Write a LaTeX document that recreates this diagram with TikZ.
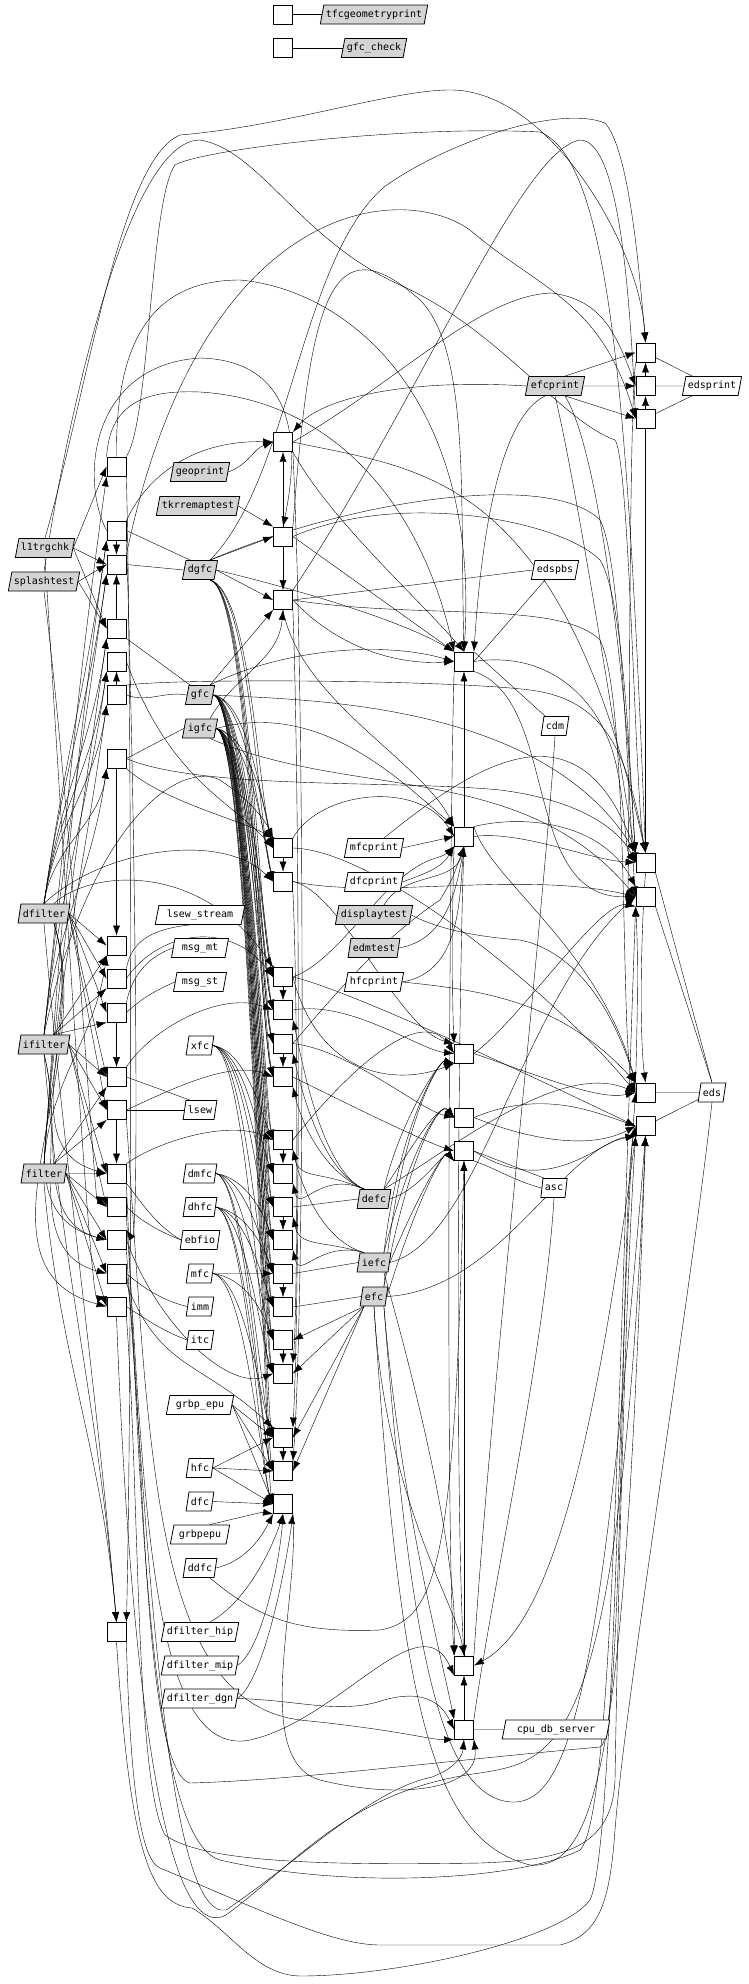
\documentclass[tikz,border=0pt]{standalone}
\usepackage{fontspec}
\setmonofont{DejaVu Sans Mono}
\usetikzlibrary{shapes.geometric,arrows.meta,positioning,backgrounds}

\tikzset{
  fn/.style={draw, rectangle, fill=white, minimum width=19pt, minimum height=19pt, inner sep=0pt},
  unit/.style={draw, trapezium, trapezium left angle=70, trapezium right angle=110,
    trapezium stretches body, fill=white, minimum height=19pt, inner xsep=2pt, inner ysep=0pt,
    font=\ttfamily\fontsize{10}{12}\selectfont},
  prog/.style={unit, fill=black!17},
}

\begin{document}
\begin{tikzpicture}[x=1pt, y=-1pt, >={Latex[length=10pt,width=7pt]}, line width=0.8pt]
\useasboundingbox (0,0) rectangle (749,1984);

% function boxes, column by column
\foreach \y [count=\i] in {466.5,530.5,564.5,628.5,661.5,695,758.5,945.5,978.5,1012.5,1077,1110,1173.5,1207,1240,1273.5,1306.5,1632}
  \node [fn] (p\i) at (116.5,\y) {};
\foreach \y [count=\i] in {14.5,48,442,536.5,600,848,881.5,977,1010,1043.5,1077,1140,1173.5,1207,1240,1273.5,1307,1340,1373.5,1437.5,1471,1504}
  \node [fn] (q\i) at (283,\y) {};
\foreach \y [count=\i] in {661.5,836.5,1053.5,1117.5,1151,1665.5,1729.5}
  \node [fn] (r\i) at (464,\y) {};
\foreach \y [count=\i] in {352.5,386,418.5,862.5,896.5,1092.5,1126}
  \node [fn] (s\i) at (645.5,\y) {};

% modules
\node [prog] (tfcgeo) at (374,14.5) {tfcgeometryprint};
\node [prog] (gfcchk) at (374,48) {gfc\_check};
\node [prog] (efcprint) at (555,386) {efcprint};
\node [unit] (edsprint) at (712,386) {edsprint};
\node [prog] (geoprint) at (200,472) {geoprint};
\node [prog] (tkrremap) at (198,506) {tkrremaptest};
\node [prog] (l1trgchk) at (45,548) {l1trgchk};
\node [prog] (dgfc) at (200,570) {dgfc};
\node [prog] (splash) at (44,581.5) {splashtest};
\node [unit] (edspbs) at (555,570) {edspbs};
\node [prog] (gfc) at (200,695) {gfc};
\node [unit] (cdm) at (555,726) {cdm};
\node [prog] (igfc) at (200,728.5) {igfc};
\node [unit] (mfcprint) at (374,848) {mfcprint};
\node [unit] (dfcprint) at (374,882) {dfcprint};
\node [prog] (dfilter) at (44,913.5) {dfilter};
\node [unit, inner xsep=8pt] (lsewstr) at (200,915) {lsew\_stream};
\node [prog] (display) at (374,915) {displaytest};
\node [unit, inner xsep=7pt] (msgmt) at (200,948) {msg\_mt};
\node [prog] (edmtest) at (374,948) {edmtest};
\node [unit, inner xsep=5pt] (msgst) at (200,982) {msg\_st};
\node [unit] (hfcprint) at (374,982) {hfcprint};
\node [prog] (ifilter) at (44,1044.5) {ifilter};
\node [unit] (xfc) at (200,1045.5) {xfc};
\node [unit] (lsew) at (200,1110) {lsew};
\node [prog] (filter) at (44,1173.5) {filter};
\node [unit] (dmfc) at (200,1173.5) {dmfc};
\node [unit] (asc) at (554,1188) {asc};
\node [prog] (defc) at (374,1199) {defc};
\node [unit] (dhfc) at (200,1207) {dhfc};
\node [unit] (ebfio) at (200,1240) {ebfio};
\node [prog] (iefc) at (374,1262.5) {iefc};
\node [unit] (mfc) at (200,1273.5) {mfc};
\node [prog] (efc) at (374,1296.5) {efc};
\node [unit] (imm) at (200,1306.5) {imm};
\node [unit] (itc) at (200,1340) {itc};
\node [unit] (eds) at (712,1092.5) {eds};
\node [unit, inner xsep=6pt] (grbpepux) at (200,1405) {grbp\_epu};
\node [unit] (hfc) at (200,1468) {hfc};
\node [unit] (dfc) at (200,1501.5) {dfc};
\node [unit, inner xsep=5pt] (grbpepu) at (200,1534.5) {grbpepu};
\node [unit] (ddfc) at (200,1568) {ddfc};
\node [unit] (dfhip) at (200,1632) {dfilter\_hip};
\node [unit] (dfmip) at (200,1665.5) {dfilter\_mip};
\node [unit] (dfdgn) at (200,1698.5) {dfilter\_dgn};
\node [unit, inner xsep=11pt] (cpudb) at (556,1729.5) {cpu\_db\_server};

\begin{scope}[on background layer]
  % links without arrow
  \draw (q1) -- (tfcgeo);
  \draw (q2) -- (gfcchk);
  \foreach \b in {s1,s2,s3} \draw (edsprint) -- (\b);
  \foreach \b in {s6,s7} \draw (eds) -- (\b);
  \foreach \b in {s4,s5} \draw (eds.north) -- (\b.south east);
  \draw (cpudb) -- (r7);
  \draw (asc.north west) -- (r5.east);
  \draw (asc.west) to[out=165,in=-20] (r5.south east);
  \draw (asc.south) .. controls (545,1350) and (490,1600) .. (r7.north east);
  \draw (cdm.north west) -- (r1.north east);
  \draw (cdm.south) .. controls (545,900) and (490,1400) .. (r6.north east);
  \draw (edspbs.west) -- (q5.east);
  \draw (edspbs.south west) -- (r1.east);
  \draw (dgfc.north west) -- (p2.east);
  \draw (dgfc.west) -- (p3.east);
  \draw (gfc.north west) -- (p4.south east);
  \draw (gfc.west) to[out=170,in=-20] (p6.east);
  \draw (igfc.west) -- (p7.east);
  \draw (lsewstr.south west) .. controls (140,930) and (130,950) .. (p9.north east);
  \draw (msgmt.west) .. controls (140,960) and (130,985) .. (p10.north east);
  \draw (msgst.west) .. controls (145,995) and (135,1005) .. (p10.east);
  \draw (lsew.north west) -- (p11.east);
  \draw (lsew.west) -- (p12.east);
  \draw (ebfio.west) .. controls (155,1225) and (140,1200) .. (p13.south east);
  \draw (ebfio.west) .. controls (150,1228) and (135,1215) .. (p14.east);
  \draw (imm.west) .. controls (160,1300) and (140,1285) .. (p16.east);
  \draw (itc.west) .. controls (160,1330) and (140,1315) .. (p17.east);
  \draw (defc.west) -- (q14.east);
  \draw (iefc.west) -- (q16.east);
  \draw (efc.west) -- (q17.east);
  \draw (p18.south east) .. controls (130,1780) and (140,1860) .. (160,1868)
    .. controls (250,1905) and (330,1945) .. (380,1945) -- (560,1945)
    .. controls (600,1935) and (610,1900) .. (615,1830) .. controls (625,1700) and (690,1300) .. (eds.south);

  % left programs into the first column
  \foreach \b in {p1,p3,p4} \draw [->] (l1trgchk.east) -- (\b.west);
  \foreach \b in {p3,p4} \draw [->] (splash.east) -- (\b.west);
  \foreach \b in {p8,p9,p10,p11,p12} \draw [->] (dfilter.east) -- (\b.west);
  \foreach \b in {p13,p15,p17} \draw [->] (dfilter.south east) to[out=-72,in=165] (\b.west);
  \foreach \b in {p8,p9,p10} \draw [->] (ifilter.north east) -- (\b.south west);
  \foreach \b in {p11,p12,p13,p14} \draw [->] (ifilter.east) -- (\b.west);
  \foreach \b in {p15,p16} \draw [->] (ifilter.south) to[out=-75,in=165] (\b.west);
  \foreach \b in {p11,p12} \draw [->] (filter.north east) -- (\b.south west);
  \foreach \b in {p13,p14,p15,p16,p17} \draw [->] (filter.east) -- (\b.west);
  \foreach \b in {p2,p3,p4,p5,p6,p7} \draw [->] (dfilter.north) to[out=82,in=-98] (\b.south west);
  \foreach \b in {p1,p3,p5,p7} \draw [->] (ifilter.north) to[out=84,in=-98] (\b.south west);
  \foreach \b in {p2,p4,p6,p8} \draw [->] (filter.north) to[out=86,in=-98] (\b.south west);
  \foreach \m in {dfilter,ifilter,filter} \draw [->] (\m.south) to[out=-85,in=95] (p18.north);
  \draw [->] (p7.south) -- (p8.north);
  \draw [->] (p2.south) -- (p3.north);
  \draw [->] (p4.north) -- (p3.south);
  \draw [->] (p6.north) -- (p5.south);
  \draw [->] (p10.south) -- (p11.north);
  \draw [->] (p12.south) -- (p13.north);
  \draw [->] (p1.south east) .. controls (132,700) and (132,1400) .. (p18.north east);
  \draw [->] (p2.south east) .. controls (135,800) and (140,1250) .. (p15.north east);
  \draw [->] (l1trgchk.south) .. controls (60,800) and (90,1300) .. (p17.north west);
  \draw [->] (splash.south) .. controls (70,800) and (95,1200) .. (p14.north west);

  % first column over to the second
  \draw [->] (p5.east) .. controls (170,780) and (230,800) .. (q6.west);
  \draw [->] (p7.south east) .. controls (160,800) and (240,820) .. (q6.north west);
  \draw [->] (dfilter.north east) .. controls (90,870) and (200,860) .. (q8.north west);
  \draw [->] (dfilter.north) .. controls (100,850) and (220,830) .. (q7.west);
  \draw [->] (ifilter.north) .. controls (90,820) and (180,760) .. (220,780)
    .. controls (250,800) and (265,820) .. (q6.north west);
  \draw [->] (p9.east) .. controls (160,930) and (230,920) .. (q8.west);
  \draw [->] (p11.north east) .. controls (150,1030) and (220,990) .. (q9.west);
  \draw [->] (p12.east) .. controls (170,1090) and (230,1060) .. (q11.west);
  \draw [->] (p13.north east) .. controls (160,1140) and (230,1120) .. (q12.west);
  \draw [->] (p15.east) .. controls (160,1330) and (230,1390) .. (q19.west);
  \draw [->] (p16.south east) .. controls (160,1370) and (200,1360) .. (q20.north west);

  % second column
  \draw [->] (geoprint.east) to[out=20,in=200] (q3.west);
  \draw [->] (p2.north east) .. controls (150,470) and (200,440) .. (q3.west);
  \draw [->] (q4.north) -- (q3.south);
  \draw [->] (tkrremap.east) -- (q4.north west);
  \draw [->] (dgfc.north east) -- (q4.west);
  \draw [->] (dgfc.east) -- (q5.west);
  \draw [->] (gfc.north east) -- (q5.south west);
  \draw [->] (q4.south) -- (q5.north);
  \draw [->] (igfc.north east) to[out=60,in=-95] (q5.south);
  \foreach \b/\y in {q6/848,q7/881.5,q8/977,q9/1010,q10/1043.5,q11/1077,q12/1140,q13/1173.5,q14/1207,q15/1240,q16/1273.5,q17/1307,q18/1340,q19/1373.5}
    \draw [->] (gfc.east) .. controls (248,700) and (262,\y-45) .. (\b.west);
  \foreach \b/\y in {q6/848,q7/881.5,q8/977,q9/1010,q10/1043.5,q11/1077,q12/1140,q13/1173.5,q14/1207,q15/1240,q16/1273.5,q17/1307,q18/1340,q19/1373.5,q20/1437.5,q21/1471,q22/1504}
    \draw [->] (igfc.east) .. controls (250,735) and (265,\y-40) .. (\b.west);
  \foreach \b/\y in {q6/848,q7/881.5,q8/977,q9/1010,q10/1043.5,q11/1077}
    \draw [->] (dgfc.south east) .. controls (250,590) and (258,\y-60) .. (\b.west);
  \foreach \b/\y in {q12/1140,q13/1173.5,q14/1207,q15/1240,q17/1307,q19/1373.5}
    \draw [->] (xfc.east) .. controls (245,1050) and (260,\y-30) .. (\b.west);
  \foreach \b/\y in {q15/1240,q16/1273.5,q18/1340,q20/1437.5,q21/1471}
    \draw [->] (dmfc.east) .. controls (245,1178) and (262,\y-30) .. (\b.west);
  \foreach \b/\y in {q16/1273.5,q17/1307,q19/1373.5,q21/1471,q22/1504}
    \draw [->] (dhfc.east) .. controls (245,1212) and (262,\y-30) .. (\b.west);
  \draw [->] (mfc.east) -- (q16.west);
  \foreach \b/\y in {q18/1340,q20/1437.5,q22/1504}
    \draw [->] (mfc.east) .. controls (245,1278) and (262,\y-30) .. (\b.west);
  \foreach \b in {q20,q21,q22} \draw [->] (hfc.east) -- (\b.west);
  \foreach \b in {q20,q21,q22} \draw [->] (grbpepux.east) -- (\b.west);
  \draw [->] (dfc.east) -- (q22.west);
  \draw [->] (grbpepu.north east) .. controls (250,1515) and (262,1512) .. (q22.south west);
  \draw [->] (ddfc.east) .. controls (250,1560) and (265,1530) .. (q22.south west);
  \draw [->] (dfhip.north east) .. controls (250,1600) and (275,1540) .. (q22.south);
  \draw [->] (dfmip.east) .. controls (262,1650) and (280,1560) .. (q22.south);
  \draw [->] (dfdgn.east) .. controls (265,1680) and (287,1560) .. (q22.south east);
  \foreach \a/\b in {q6/q7,q8/q9,q10/q11,q12/q13,q14/q15,q16/q17,q18/q19,q20/q21}
    \draw [->] (\a.south) -- (\b.north);
  \draw [->] (q3.south east) .. controls (305,700) and (305,1300) .. (q21.north east);
  \draw [->] (q5.south east) .. controls (300,800) and (300,1300) .. (q20.north east);
  \draw [->] (q7.south east) .. controls (298,1000) and (298,1300) .. (q19.north east);
  \foreach \b/\y in {q9/1010,q10/1043.5,q11/1077,q12/1140,q13/1173.5}
    \draw [->] (defc.north west) .. controls (320,1170) and (300,\y+40) .. (\b.south east);
  \foreach \b/\y in {q12/1140,q14/1207,q15/1240}
    \draw [->] (iefc.north west) .. controls (320,1240) and (300,\y+40) .. (\b.south east);
  \foreach \b in {q18,q19,q20,q21} \draw [->] (efc.south west) -- (\b.east);

  % third column
  \draw [->] (q4.east) -- (r1.north west);
  \draw [->] (dgfc.east) .. controls (300,590) and (400,620) .. (r1.north west);
  \draw [->] (gfc.north east) .. controls (280,650) and (380,640) .. (r1.west);
  \draw [->] (q5.east) .. controls (340,650) and (400,665) .. (r1.west);
  \draw [->] (q3.south east) .. controls (330,520) and (420,600) .. (r1.north);
  \draw [->] (r2.north) -- (r1.south);
  \draw [->] (mfcprint.east) -- (r2.west);
  \draw [->] (dfcprint.east) to[out=20,in=-120] (r2.south west);
  \draw [->] (display.north east) to[out=60,in=-105] (r2.south);
  \draw [->] (edmtest.east) to[out=10,in=-100] (r2.south);
  \draw [->] (hfcprint.east) to[out=10,in=-95] (r2.south);
  \draw [->] (igfc.east) .. controls (320,700) and (400,780) .. (r2.north west);
  \draw [->] (q5.south) .. controls (300,700) and (420,760) .. (r2.north west);
  \draw [->] (q6.north east) .. controls (320,790) and (420,780) .. (r2.west);
  \draw [->] (q9.east) .. controls (350,1000) and (420,1050) .. (r3.west);
  \draw [->] (q10.east) .. controls (350,1050) and (420,1110) .. (r4.west);
  \draw [->] (q11.east) .. controls (340,1100) and (420,1140) .. (r5.west);
  \draw [->] (q7.east) .. controls (340,890) and (400,1030) .. (r3.north west);
  \draw [->] (q8.east) .. controls (320,1080) and (400,1085) .. (r3.south west);
  \draw [->] (q8.east) .. controls (340,960) and (380,880) .. (430,860) .. controls (445,855) .. (r2.south west);
  \draw [->] (q10.east) .. controls (330,1000) and (380,940) .. (440,900) .. controls (452,880) .. (r2.south);
  \draw [->] (q12.east) .. controls (340,1080) and (420,1000) .. (r3.west);
  \foreach \m in {defc,iefc,efc} {
    \draw [->] (\m.east) .. controls (420,1190) and (445,1150) .. (r5.south west);
    \draw [->] (\m.north east) .. controls (410,1150) and (440,1100) .. (r4.west);
    \draw [->] (\m.north east) .. controls (400,1120) and (440,1060) .. (r3.south west);
  }
  \draw [->] (r2.south west) .. controls (452,900) and (452,1000) .. (r3.north west);
  \draw [->] (r1.south west) .. controls (450,800) and (445,1500) .. (r6.north west);
  \draw [->] (r2.south) .. controls (458,1000) and (455,1500) .. (r6.north);
  \draw [->] (r6.north) -- (r5.south);
  \draw [->] (efc.south) .. controls (385,1500) and (455,1600) .. (r6.north);
  \draw [->] (iefc.south east) .. controls (420,1400) and (458,1560) .. (r6.north west);
  \draw [->] (r7.north) -- (r6.south);
  \draw [->] (efc.south east) .. controls (400,1500) and (440,1650) .. (r7.north west);
  \draw [->] (s7.south west) .. controls (600,1400) and (560,1620) .. (r6.east);
  \draw [->] (ddfc.south east) .. controls (260,1620) and (300,1633) .. (380,1630)
    .. controls (440,1620) and (455,1550) .. (r5.south);
  \draw [->] (dfdgn.east) .. controls (300,1700) and (340,1715) .. (384,1700)
    .. controls (420,1690) and (440,1700) .. (r7.west);

  % fourth column
  \draw [->] (efcprint.north east) -- (s1.west);
  \draw [->] (efcprint.east) -- (s2.west);
  \draw [->] (efcprint.south east) -- (s3.west);
  \draw [->] (s2.north) -- (s1.south);
  \draw [->] (s3.north) -- (s2.south);
  \draw [->] (s3.south) -- (s4.north);
  \draw [->] (s1.south west) .. controls (628,420) and (630,900) .. (s5.west);
  \draw [->] (efcprint.south east) .. controls (600,450) and (628,700) .. (s4.west);
  \draw [->] (efcprint.south) .. controls (580,500) and (625,800) .. (s4.north west);
  \draw [->] (s4.south) .. controls (640,950) and (640,1040) .. (s6.north);
  \draw [->] (s6.north west) .. controls (638,1000) and (638,950) .. (s5.south west);
  \draw [->] (gfc.east) .. controls (300,700) and (540,700) .. (s4.north west);
  \draw [->] (p6.north east) .. controls (180,678) and (450,680) .. (530,690)
    .. controls (610,700) and (628,760) .. (s4.north);
  \draw [->] (igfc.south east) .. controls (350,800) and (520,760) .. (s5.west);
  \draw [->] (q6.east) .. controls (380,850) and (560,1000) .. (s6.west);
  \draw [->] (q7.east) .. controls (380,900) and (520,870) .. (s5.west);
  \draw [->] (q8.east) .. controls (350,990) and (540,1080) .. (s7.west);
  \draw [->] (r2.east) .. controls (520,830) and (590,860) .. (s4.west);
  \draw [->] (r3.east) .. controls (520,1020) and (600,900) .. (s5.south west);
  \draw [->] (r3.east) .. controls (550,1080) and (600,1100) .. (s6.west);
  \draw [->] (r4.east) .. controls (530,1140) and (590,1150) .. (s7.west);
  \draw [->] (r5.east) .. controls (550,1200) and (600,1140) .. (s7.south west);
  \draw [->] (defc.north east) .. controls (450,1150) and (560,1060) .. (s6.west);
  \draw [->] (q4.east) .. controls (400,490) and (560,520) .. (600,560)
    .. controls (625,600) and (630,780) .. (s4.north west);
  \draw [->] (dgfc.north east) .. controls (350,500) and (550,470) .. (600,520)
    .. controls (622,560) and (628,800) .. (s5.west);
  \draw [->] (r1.east) .. controls (550,650) and (600,700) .. (615,760)
    .. controls (625,800) and (625,850) .. (s4.west);
  \draw [->] (q3.east) .. controls (420,470) and (560,470) .. (s4.north);
  \draw [->] (q5.east) .. controls (420,620) and (560,600) .. (600,640)
    .. controls (630,700) and (620,1050) .. (s6.west);
  \draw [->] (r1.south east) .. controls (560,700) and (520,900) .. (s5.west);
  \draw [->] (mfcprint.north east) .. controls (480,760) and (580,700) .. (s4.north west);
  \draw [->] (hfcprint.east) .. controls (480,990) and (560,1000) .. (s6.north west);
  \draw [->] (r2.north east) .. controls (490,880) and (600,950) .. (s6.north west);
  \draw [->] (r2.north east) .. controls (520,815) and (600,820) .. (s5.north west);
  \draw [->] (display.east) .. controls (440,930) and (480,937) .. (520,940)
    .. controls (570,950) and (610,1000) .. (s6.north west);
  \draw [->] (r4.east) .. controls (540,1090) and (590,1110) .. (s7.west);
  \draw [->] (p7.east) .. controls (200,790) and (400,780) .. (500,790)
    .. controls (580,800) and (620,830) .. (s4.west);
  \draw [->] (iefc.east) .. controls (480,1240) and (520,1000) .. (s5.west);
  \draw [->] (efc.east) .. controls (500,1290) and (560,1150) .. (s7.south west);

  % long loops over the top
  \draw [->] (l1trgchk.north) .. controls (90,380) and (120,160) .. (180,135)
    .. controls (300,125) and (420,80) .. (470,92) .. controls (560,110) and (640,250) .. (s1.north);
  \draw [->] (dgfc.north east) .. controls (290,480) and (300,260) .. (384,187)
    .. controls (450,140) and (560,105) .. (605,123) .. controls (630,150) and (640,280) .. (s1.north);
  \draw [->] (p1.north east) .. controls (150,420) and (150,200) .. (175,165)
    .. controls (200,150) and (400,125) .. (540,132) .. controls (610,160) and (628,400) .. (s4.north);
  \draw [->] (splash.north) .. controls (70,400) and (130,140) .. (200,140)
    .. controls (260,150) and (300,240) .. (400,285) .. controls (500,330) and (560,420) .. (615,440)
    .. controls (630,460) and (635,800) .. (s4.north);
  \draw [->] (p1.north) .. controls (115,330) and (160,280) .. (240,280)
    .. controls (350,290) and (480,400) .. (r1.north);
  \draw [->] (p2.west) .. controls (80,480) and (90,365) .. (200,358)
    .. controls (280,360) and (305,420) .. (q4.north);
  \draw [->] (p1.north west) .. controls (110,400) and (150,390) .. (200,392)
    .. controls (330,400) and (420,500) .. (r1.north west);
  \draw [->] (efcprint.west) .. controls (400,378) and (320,400) .. (q3.north east);
  \draw [->] (q3.east) .. controls (400,380) and (480,295) .. (552,293)
    .. controls (600,300) and (615,330) .. (s2.west);
  \draw [->] (efcprint.south west) .. controls (495,420) and (480,560) .. (r1.north east);
  \draw [->] (q5.north east) .. controls (420,400) and (520,150) .. (580,140)
    .. controls (620,140) and (630,300) .. (s3.west);
  \draw [->] (p3.north east) .. controls (200,200) and (400,180) .. (470,230)
    .. controls (540,290) and (600,300) .. (s3.west);
  \draw [->] (q4.north east) .. controls (310,300) and (330,220) .. (420,300)
    .. controls (470,350) and (460,500) .. (r1.north);

  % long loops under the bottom
  \draw [->] (p17.south east) .. controls (140,1500) and (135,1780) .. (165,1835)
    .. controls (200,1860) and (300,1866) .. (480,1863) .. controls (560,1860) and (612,1850) .. (615,1780)
    .. controls (618,1600) and (625,1300) .. (s7.south west);
  \draw [->] (p16.east) .. controls (145,1400) and (140,1770) .. (190,1783)
    .. controls (300,1780) and (450,1760) .. (600,1747) .. controls (625,1740) and (620,1200) .. (s7.west);
  \draw [->] (p18.south) .. controls (130,1850) and (150,1905) .. (192,1908)
    .. controls (230,1930) and (255,1975) .. (300,1976) .. controls (400,1976) and (560,1940) .. (590,1900)
    .. controls (615,1850) and (620,1300) .. (s6.west);
  \draw [->] (efc.south) .. controls (400,1700) and (430,1840) .. (530,1865)
    .. controls (600,1870) and (625,1750) .. (s7.south);
  \draw [->] (efc.south east) .. controls (410,1650) and (440,1780) .. (500,1800)
    .. controls (570,1820) and (600,1700) .. (s7.south);
  \draw [->] (p15.south east) .. controls (150,1600) and (170,1920) .. (226,1910)
    .. controls (300,1860) and (370,1790) .. (432,1777) .. controls (450,1770) and (462,1760) .. (r7.south);
  \draw [->] (p14.south east) .. controls (145,1500) and (150,1760) .. (250,1740)
    .. controls (340,1720) and (420,1600) .. (r6.south west);
  \draw [->] (p13.south east) .. controls (140,1500) and (150,1840) .. (220,1860)
    .. controls (350,1890) and (520,1880) .. (580,1850) .. controls (612,1820) and (618,1400) .. (s5.south west);
  \draw [->] (p12.south east) .. controls (150,1450) and (150,1700) .. (300,1720)
    .. controls (400,1730) and (430,1740) .. (r7.south west);
  \draw [->] (p17.south) .. controls (135,1800) and (180,1940) .. (226,1915)
    .. controls (300,1860) and (350,1790) .. (480,1773) .. controls (560,1760) and (620,1750) .. (s7.south);
  \draw [->] (q22.south east) .. controls (300,1600) and (250,1760) .. (320,1780)
    .. controls (400,1800) and (480,1790) .. (r7.south east);
\end{scope}
\end{tikzpicture}
\end{document}
